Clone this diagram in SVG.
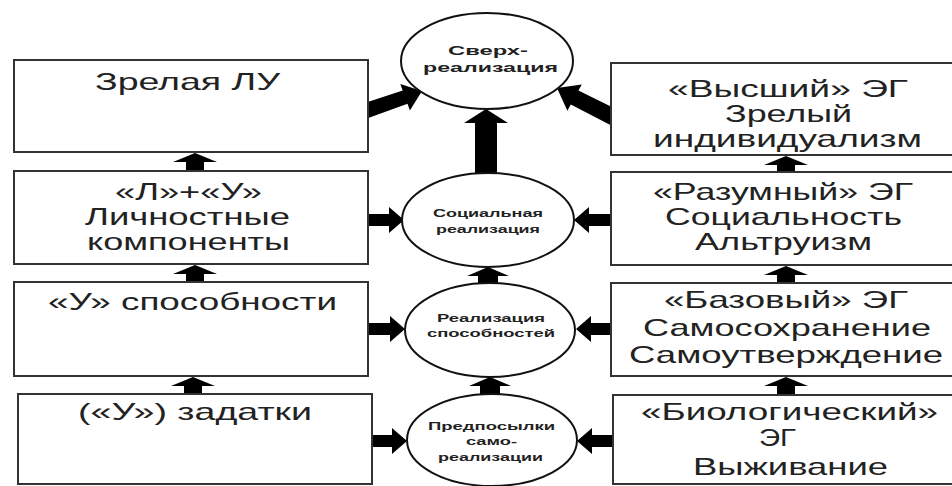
<svg xmlns="http://www.w3.org/2000/svg" width="952" height="486" viewBox="0 0 952 486">
<style>
.box{fill:#fff;stroke:#333;stroke-width:2}
.ell{fill:#fff;stroke:#111;stroke-width:2}
.big{font-family:"Liberation Sans",Arial,sans-serif;font-size:24px;fill:#222}
.sm{font-family:"Liberation Sans",Arial,sans-serif;font-weight:bold;font-size:10px;fill:#222}
.sm1{font-family:"Liberation Sans",Arial,sans-serif;font-weight:bold;font-size:13px;fill:#222}
.arr{fill:#000}
</style>
<rect width="952" height="486" fill="#fff"/>
<g id="connectors">
<polygon class="arr" points="360,104.4 402.7,90.6 400.3,84 422,91 409.9,110.4 407.5,103.8 360,121"/>
<polygon class="arr" points="620,111 578.4,90.6 581.8,84.4 557,88 567.4,110.8 570.8,104.6 620,130"/>
<polygon class="arr" points="475,180 475,123 464,123 486,109 508,123 497,123 497,180"/>
<polygon class="arr" points="360,214 389,214 389,207 404,220 389,233 389,226 360,226"/>
<polygon class="arr" points="620,214 589,214 589,207 574,220 589,233 589,226 620,226"/>
<polygon class="arr" points="360,323 390,323 390,316 405,329 390,342 390,335 360,335"/>
<polygon class="arr" points="620,323 591,323 591,316 576,329 591,342 591,335 620,335"/>
<polygon class="arr" points="360,435 392,435 392,428 407,441 392,454 392,447 360,447"/>
<polygon class="arr" points="620,435 592,435 592,428 577,441 592,454 592,447 620,447"/>
<polygon class="arr" points="186,180 186,162 173,162 195,153 217,162 204,162 204,180"/>
<polygon class="arr" points="186,290 186,274 173,274 195,265 217,274 204,274 204,290"/>
<polygon class="arr" points="184,400 184,386 171,386 193,377 215,386 202,386 202,400"/>
<polygon class="arr" points="777,180 777,165 764,165 786,156 808,165 795,165 795,180"/>
<polygon class="arr" points="777,290 777,275 764,275 786,266 808,275 795,275 795,290"/>
<polygon class="arr" points="777,400 777,386 764,386 786,377 808,386 795,386 795,400"/>
<polygon class="arr" points="478,290 478,276 467,276 488,267 509,276 498,276 498,290"/>
<polygon class="arr" points="480,400 480,386 469,386 490,377 511,386 500,386 500,400"/>
</g>
<g id="n-zrelaya">
<rect class="box" x="14" y="60" width="354" height="92"/>
<text class="big" x="95" y="90" textLength="185" lengthAdjust="spacingAndGlyphs">Зрелая ЛУ</text>
</g>
<g id="n-lichnostnye">
<rect class="box" x="14" y="171" width="354" height="93"/>
<text class="big" x="115" y="200" textLength="147" lengthAdjust="spacingAndGlyphs">«Л»+«У»</text>
<text class="big" x="85" y="225" textLength="205" lengthAdjust="spacingAndGlyphs">Личностные</text>
<text class="big" x="87" y="250" textLength="203" lengthAdjust="spacingAndGlyphs">компоненты</text>
</g>
<g id="n-sposobnosti">
<rect class="box" x="14" y="282" width="354" height="94"/>
<text class="big" x="48" y="310" textLength="289" lengthAdjust="spacingAndGlyphs">«У» способности</text>
</g>
<g id="n-zadatki">
<rect class="box" x="18" y="394" width="354" height="90"/>
<text class="big" x="78" y="420" textLength="234" lengthAdjust="spacingAndGlyphs">(«У») задатки</text>
</g>
<g id="n-vysshiy">
<rect class="box" x="611" y="63" width="360" height="92"/>
<text class="big" x="668" y="97" textLength="240" lengthAdjust="spacingAndGlyphs">«Высший» ЭГ</text>
<text class="big" x="725" y="122" textLength="127" lengthAdjust="spacingAndGlyphs">Зрелый</text>
<text class="big" x="653" y="147" textLength="269" lengthAdjust="spacingAndGlyphs">индивидуализм</text>
</g>
<g id="n-razumnyy">
<rect class="box" x="611" y="172" width="360" height="93"/>
<text class="big" x="653" y="200" textLength="260" lengthAdjust="spacingAndGlyphs">«Разумный» ЭГ</text>
<text class="big" x="665" y="225" textLength="237" lengthAdjust="spacingAndGlyphs">Социальность</text>
<text class="big" x="695" y="250" textLength="177" lengthAdjust="spacingAndGlyphs">Альтруизм</text>
</g>
<g id="n-bazovyy">
<rect class="box" x="611" y="283" width="360" height="93"/>
<text class="big" x="664" y="308" textLength="244" lengthAdjust="spacingAndGlyphs">«Базовый»  ЭГ</text>
<text class="big" x="643" y="336" textLength="288" lengthAdjust="spacingAndGlyphs">Самосохранение</text>
<text class="big" x="629" y="363" textLength="314" lengthAdjust="spacingAndGlyphs">Самоутверждение</text>
</g>
<g id="n-biologicheskiy">
<rect class="box" x="613" y="395" width="360" height="89"/>
<text class="big" x="641" y="420" textLength="297" lengthAdjust="spacingAndGlyphs">«Биологический»</text>
<text class="big" x="759" y="446" textLength="37" lengthAdjust="spacingAndGlyphs">ЭГ</text>
<text class="big" x="693" y="475" textLength="195" lengthAdjust="spacingAndGlyphs">Выживание</text>
</g>
<g id="n-sverkh">
<ellipse class="ell" cx="487" cy="61" rx="86" ry="48"/>
<text class="sm1" x="448" y="55" textLength="80" lengthAdjust="spacingAndGlyphs">Сверх-</text>
<text class="sm1" x="423" y="72" textLength="135" lengthAdjust="spacingAndGlyphs">реализация</text>
</g>
<g id="n-socialnaya">
<ellipse class="ell" cx="488" cy="220" rx="86" ry="47"/>
<text class="sm" x="433" y="217" textLength="110" lengthAdjust="spacingAndGlyphs">Социальная</text>
<text class="sm" x="436" y="233" textLength="104" lengthAdjust="spacingAndGlyphs">реализация</text>
</g>
<g id="n-realizaciya">
<ellipse class="ell" cx="490" cy="330" rx="85" ry="47"/>
<text class="sm" x="437" y="322" textLength="108" lengthAdjust="spacingAndGlyphs">Реализация</text>
<text class="sm" x="427" y="337" textLength="128" lengthAdjust="spacingAndGlyphs">способностей</text>
</g>
<g id="n-predposylki">
<ellipse class="ell" cx="492" cy="440" rx="85" ry="46"/>
<text class="sm" x="428" y="430" textLength="127" lengthAdjust="spacingAndGlyphs">Предпосылки</text>
<text class="sm" x="466" y="445" textLength="51" lengthAdjust="spacingAndGlyphs">само-</text>
<text class="sm" x="438" y="461" textLength="105" lengthAdjust="spacingAndGlyphs">реализации</text>
</g>
</svg>
